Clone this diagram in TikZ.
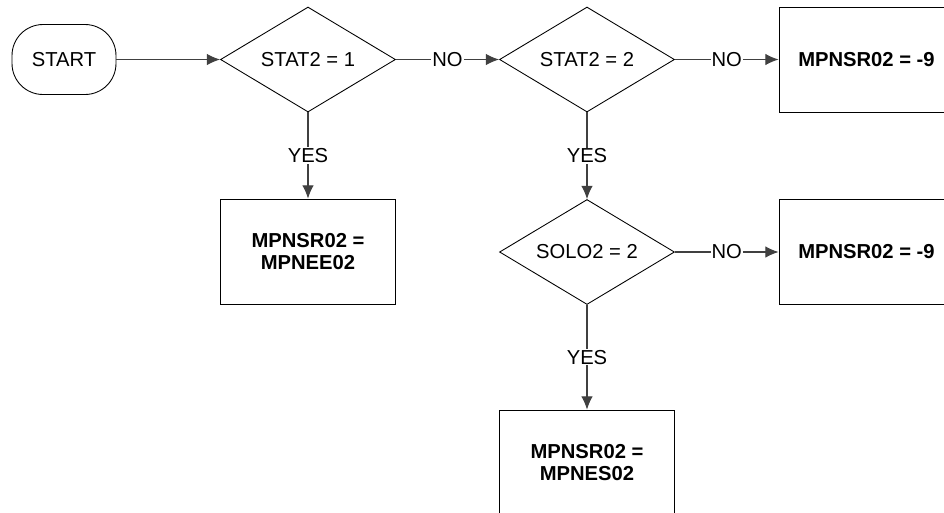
\documentclass[tikz,border=0pt]{standalone}
\usepackage{fontspec}
\setmainfont{Liberation Sans}
\usetikzlibrary{shapes.geometric,arrows.meta}
\begin{document}
\begin{tikzpicture}[x=0.02cm,y=-0.02cm,
  every node/.style={font=\fontsize{11.5}{12.5}\selectfont},
  term/.style={draw,line width=0.5pt,rounded corners=0.62cm,minimum width=2.08cm,minimum height=1.4cm},
  test/.style={draw,line width=0.5pt,diamond,aspect=1.67,minimum width=3.5cm,minimum height=2.1cm,inner sep=0pt},
  act/.style={draw,line width=0.5pt,minimum width=3.5cm,minimum height=2.1cm,align=center,font=\fontsize{11.5}{12.5}\selectfont\bfseries},
  flow/.style={draw=black!75,line width=0.6pt,-{Latex[length=7.5pt,width=6.5pt]}},
  lbl/.style={fill=white,inner sep=0.5pt}]
\useasboundingbox (0,0) rectangle (944,512);
\clip (0,0) rectangle (944,512);
\node[term] (start) at (64,59.5) {START};
\node[test] (t1) at (308,59.5) {STAT2 = 1};
\node[test] (t2) at (587,59.5) {STAT2 = 2};
\node[act] (r1) at (866.5,59.5) {MPNSR02 = -9};
\node[act] (s1) at (308,251.5) {MPNSR02 =\\MPNEE02};
\node[test] (t3) at (587,252) {SOLO2 = 2};
\node[act] (r2) at (866.5,252) {MPNSR02 = -9};
\node[act] (s3) at (587,462.5) {MPNSR02 =\\MPNES02};
\draw[flow] (start) -- (t1);
\draw[flow] (t1) -- node[lbl]{NO} (t2);
\draw[flow] (t2) -- node[lbl]{NO} (r1);
\draw[flow] (t1) -- node[lbl]{YES} (s1);
\draw[flow] (t2) -- node[lbl]{YES} (t3);
\draw[flow] (t3) -- node[lbl]{NO} (r2);
\draw[flow] (t3) -- node[lbl]{YES} (s3);
\end{tikzpicture}
\end{document}
